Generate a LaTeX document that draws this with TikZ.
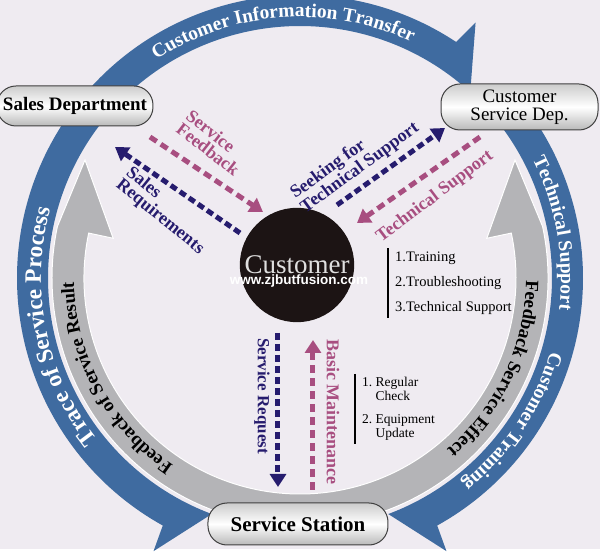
\documentclass[tikz,border=0pt]{standalone}
\usepackage{fontspec}
\setmainfont{Liberation Serif}
\setsansfont{Liberation Sans}
\usetikzlibrary{arrows.meta,decorations.text}
\definecolor{bgcol}{RGB}{239,235,241}
\definecolor{ringblue}{RGB}{63,107,160}
\definecolor{ringgray}{RGB}{180,180,183}
\definecolor{navy}{RGB}{38,28,110}
\definecolor{plum}{RGB}{168,78,128}
\definecolor{custblack}{RGB}{28,20,20}
\newcommand\bandfont{\bfseries\fontsize{19.5}{20}\selectfont}
\newcommand\tracefont{\bfseries\fontsize{23.5}{24}\selectfont}
\newcommand\grayfont{\bfseries\fontsize{18.8}{19}\selectfont}
\tikzset{
  pill/.style={draw=black!75, line width=1pt, rounded corners=19pt, top color=gray!40, bottom color=gray!55, middle color=white, inner sep=0pt},
  navyflow/.style={draw=navy, line width=5pt, dash pattern=on 7pt off 4pt, -{Triangle[width=16pt,length=13pt]}},
  plumflow/.style={draw=plum, line width=5pt, dash pattern=on 8pt off 5pt, -{Triangle[width=16pt,length=13pt]}},
  navytag/.style={text=navy, font=\bfseries\fontsize{18}{16}\selectfont, inner sep=0pt},
  plumtag/.style={text=plum, font=\bfseries\fontsize{18}{16}\selectfont, inner sep=0pt},
  steplist/.style={font=\fontsize{14.5}{25}\selectfont, align=left, anchor=west, inner xsep=0pt},
  listbar/.style={line width=1.6pt},
  bandtext/.style 2 args={decorate, decoration={text along path, text align=center, text color=#1, text={#2}}},
}
\begin{document}
\begin{tikzpicture}[x=1pt,y=1pt]
\useasboundingbox (-300,-281) rectangle (300,278);
\fill[bgcol] (-300,-281) rectangle (300,278);
\fill[white] (-300,-281) rectangle (300,-271);

\fill[ringblue] (142:283) arc[start angle=142, end angle=56.5, radius=283] -- (55.5:310) -- (47.5:252) arc[start angle=47.5, end angle=142, radius=252] -- cycle;
\fill[ringblue] (40:283) arc[start angle=40, end angle=-61, radius=283] -- (-61.8:310) -- (-69.5:252) arc[start angle=-69.5, end angle=40, radius=252] -- cycle;
\fill[ringblue] (142:283) arc[start angle=142, end angle=241, radius=283] -- (241.8:310) -- (249.5:252) arc[start angle=249.5, end angle=142, radius=252] -- cycle;
\fill[ringgray, draw=white, line width=1pt] (168:248) -- (-215,118) -- (168:191) -- (168:216) arc[start angle=168, end angle=372, radius=216] -- (12:191) -- (215,118) -- (12:248) arc[start angle=12, end angle=-192, radius=248] -- cycle;

\path[bandtext={white}{|\bandfont|Customer Information Transfer}] (140:261) arc[start angle=140, end angle=48, radius=261];
\path[bandtext={white}{|\bandfont|Technical Support}] (40:261) arc[start angle=40, end angle=-20, radius=261];
\path[bandtext={white}{|\bandfont|Customer Training}] (-4:261) arc[start angle=-4, end angle=-64, radius=261];
\path[bandtext={white}{|\tracefont|Trace of Service Process}] (235:259) arc[start angle=235, end angle=148, radius=259];
\path[bandtext={black}{|\grayfont|Feedback of Service Result}] (252:226) arc[start angle=252, end angle=165, radius=226];
\path[bandtext={black}{|\grayfont|Feedback Service Effect}] (12:226) arc[start angle=12, end angle=-62, radius=226];

\node[pill, minimum width=156pt, minimum height=40pt, font=\bfseries\fontsize{19}{20}\selectfont] (sales) at (-225,172) {Sales Department};
\node[pill, minimum width=157pt, minimum height=46pt, align=center, font=\fontsize{19}{18}\selectfont] (csd) at (219.5,171) {Customer\\Service Dep.};
\node[pill, minimum width=180pt, minimum height=42pt, font=\bfseries\fontsize{21}{22}\selectfont] (station) at (-2,-246) {Service Station};
\node[circle, fill=custblack, minimum size=110pt, text=gray!25, font=\fontsize{27}{28}\selectfont] (cust) at (-3,13) {Customer};
\node[text=white, font=\sffamily\bfseries\fontsize{13.5}{14}\selectfont] (mark) at (-1,-3) {www.zjbutfusion.com};

\coordinate (reqA) at (-60,45);
\coordinate (reqB) at (-185,131);
\coordinate (fbA) at (-150,141);
\coordinate (fbB) at (-37,66);
\coordinate (seekA) at (37,73);
\coordinate (seekB) at (145,150);
\coordinate (techA) at (180,141);
\coordinate (techB) at (57,55);
\coordinate (srA) at (-22,-55);
\coordinate (srB) at (-22,-209);
\coordinate (bmA) at (13,-212);
\coordinate (bmB) at (13,-62);
\draw[navyflow] (reqA) -- (reqB);
\draw[plumflow] (fbA) -- (fbB);
\draw[navyflow] (seekA) -- (seekB);
\draw[plumflow] (techA) -- (techB);
\draw[navyflow] (srA) -- (srB);
\draw[plumflow] (bmA) -- (bmB);

\node[plumtag, rotate=-38, align=left] (fbtag) at (-87,135) {Service\\Feedback};
\node[navytag, rotate=-39, align=left] (reqtag) at (-135,67) {Sales\\Requirements};
\node[navytag, rotate=36, align=left] (seektag) at (55,117) {Seeking for\\Technical Support};
\node[plumtag, rotate=37] (techtag) at (135,81) {Technical Support};
\node[navytag, rotate=-90, font=\bfseries\fontsize{17}{17}\selectfont] (srtag) at (-38,-118) {Service Request};
\node[plumtag, rotate=-90] (bmtag) at (33,-134) {Basic Maintenance};

\node[steplist] (tasks) at (95,-5) {1.Training\\2.Troubleshooting\\3.Technical Support};
\draw[listbar] ([xshift=-7pt]tasks.north west) -- ([xshift=-7pt]tasks.south west);
\node[steplist, font=\fontsize{13.5}{14}\selectfont] (checks) at (62,-131) {1.~Regular\\\phantom{1.~}Check\\[9pt]2.~Equipment\\\phantom{2.~}Update};
\draw[listbar] ([xshift=-7pt]checks.north west) -- ([xshift=-7pt]checks.south west);
\end{tikzpicture}
\end{document}
